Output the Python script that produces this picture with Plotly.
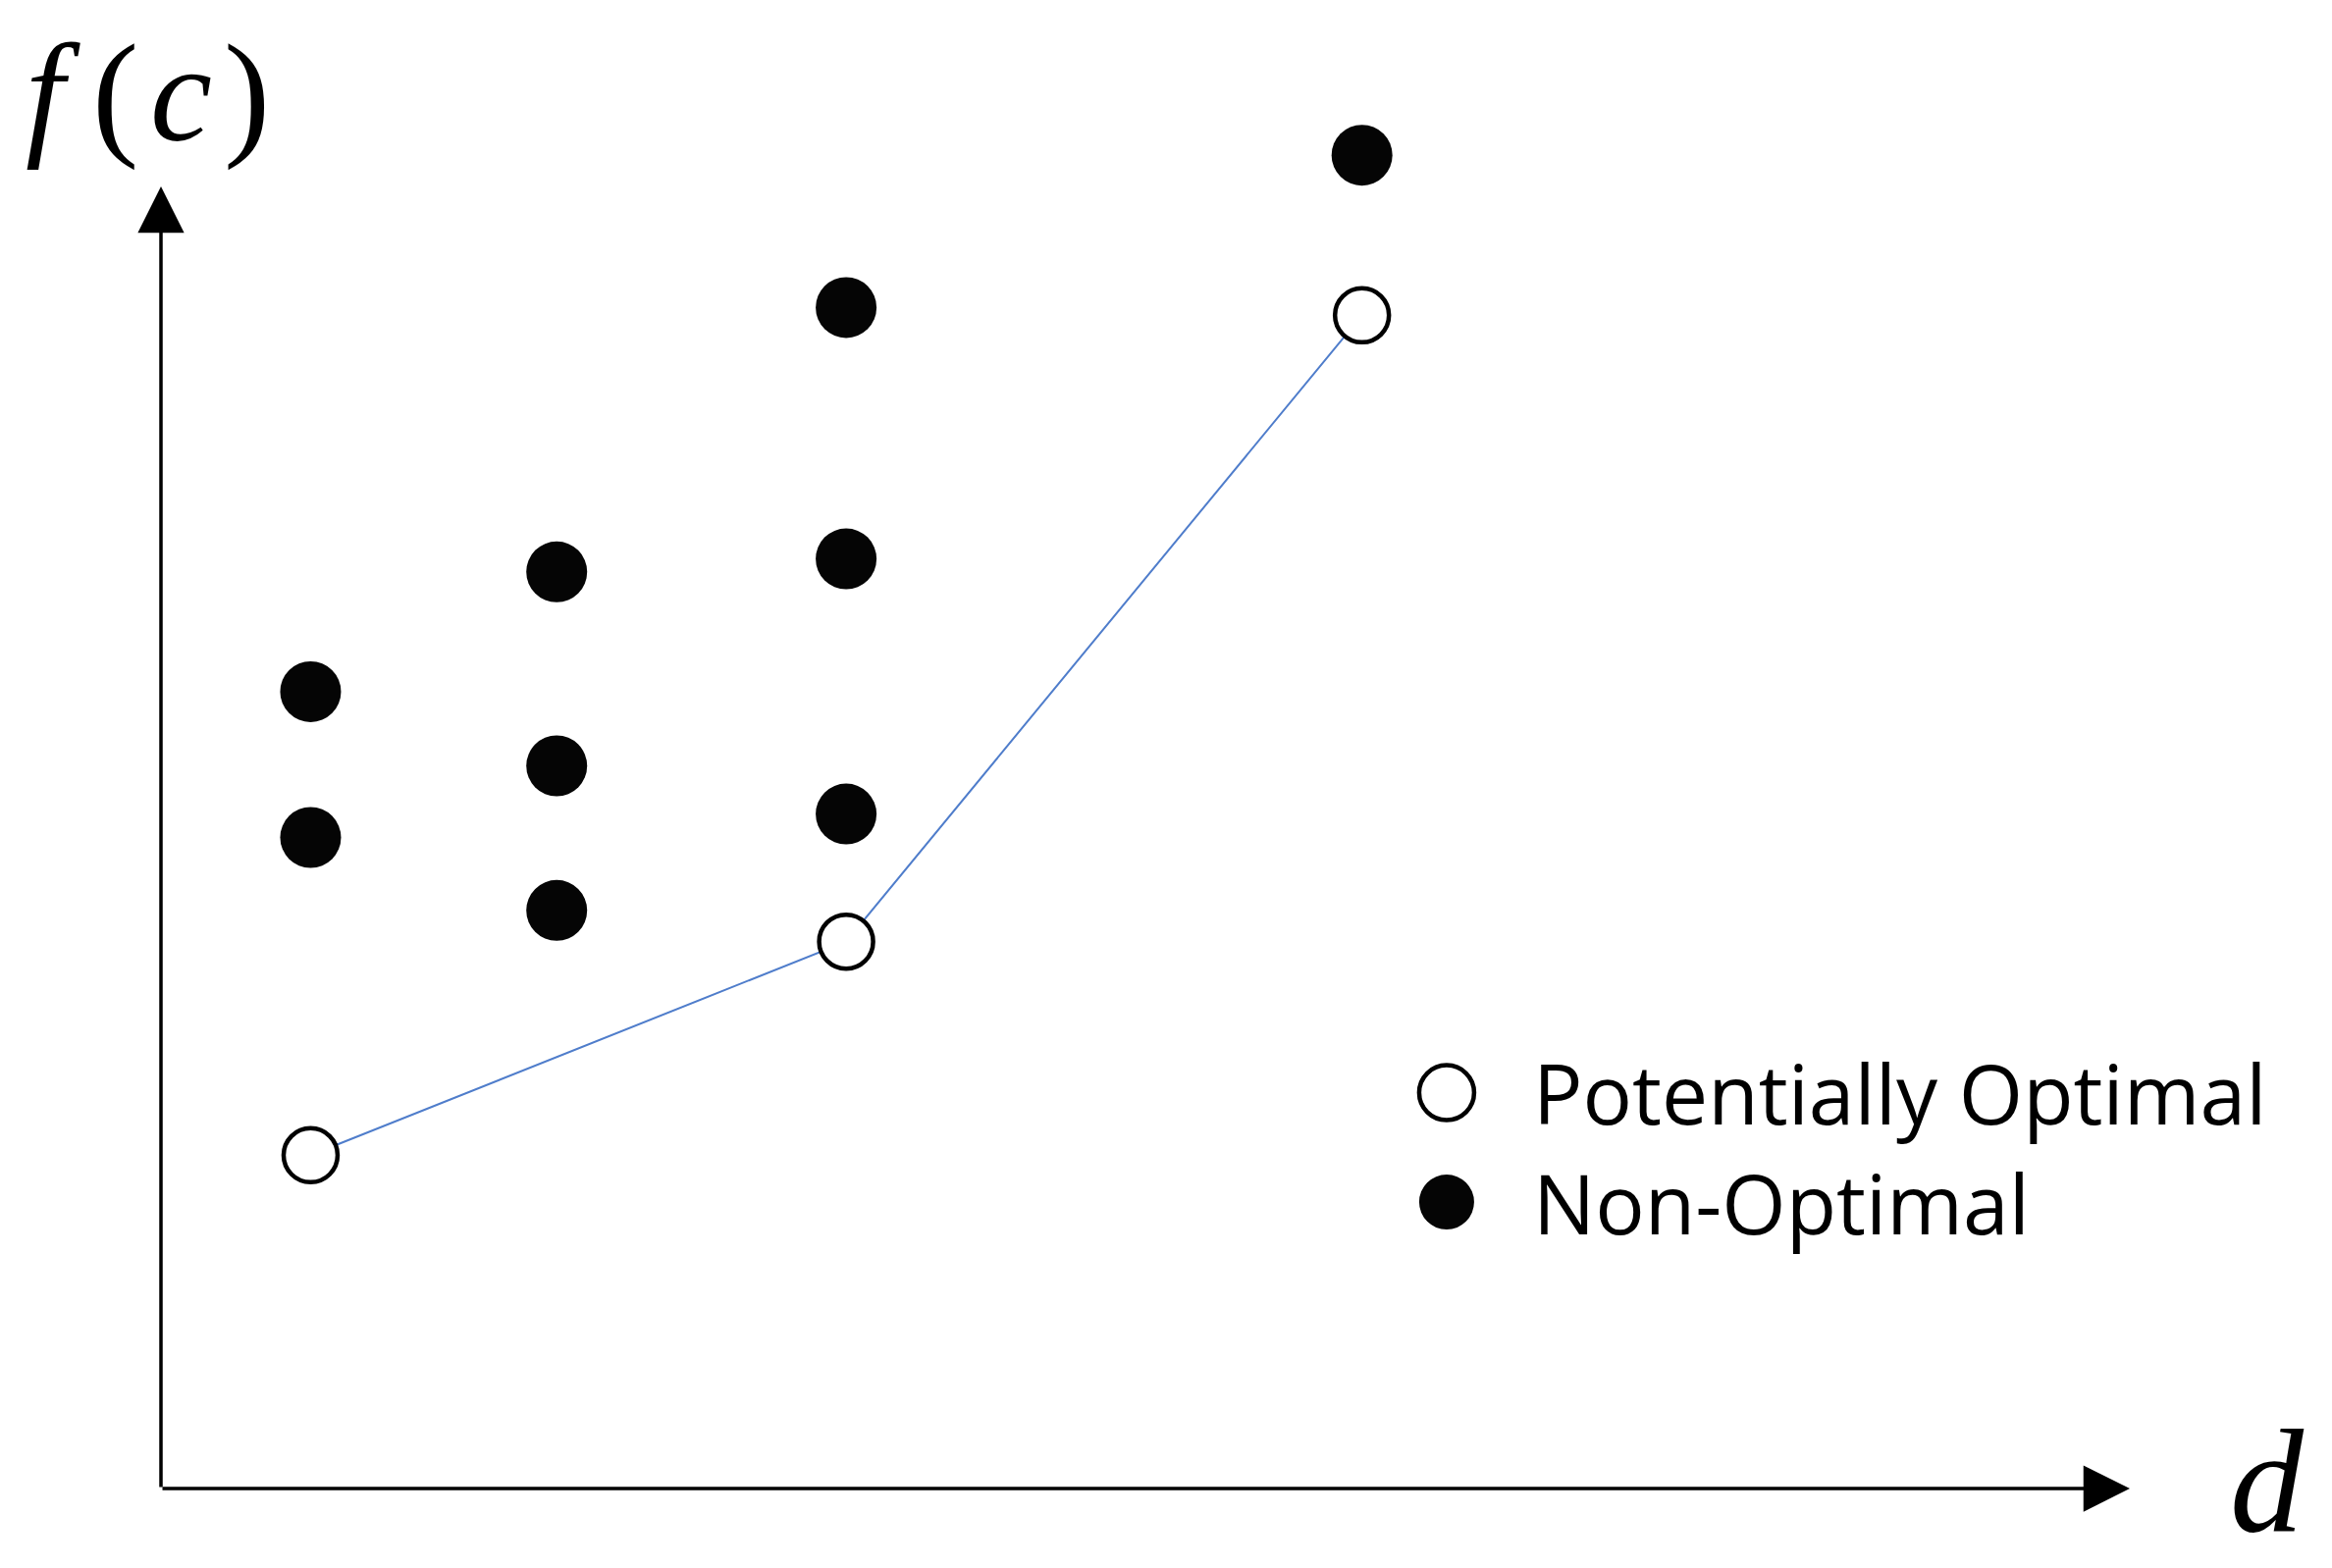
import plotly.graph_objects as go

# ---- data (abstract units: origin of the drawn axes at (0, 0)) ----
opt_d = [7.6, 34.8, 61.0]
opt_f = [25.6, 42.0, 90.1]

non_d = [7.6, 7.6, 20.1, 20.1, 20.1, 34.8, 34.8, 34.8, 61.0]
non_f = [61.2, 50.0, 70.4, 55.5, 44.4, 90.7, 71.4, 51.8, 102.4]

legend_labels = ["Potentially Optimal", "Non-Optimal"]
x_label = "<i>d</i>"
y_label = "<i>f</i>\u2009(\u200a<i>c</i>\u200a)"

# page body has an 8px margin, so the figure is 16px smaller than the window
W, H = 2360, 1582
X_RANGE = [-7.777, 109.870]
Y_RANGE = [-5.501, 113.715]
AXIS_END = 100

fig = go.Figure()

fig.add_trace(go.Scatter(
    x=opt_d, y=opt_f, mode="lines+markers",
    line=dict(color="#4F7DCB", width=2),
    marker=dict(size=55, color="white", line=dict(color="black", width=4.5)),
    name=legend_labels[0], showlegend=False, hoverinfo="skip",
))
fig.add_trace(go.Scatter(
    x=non_d, y=non_f, mode="markers",
    marker=dict(size=62, color="#050505", line=dict(width=0)),
    name=legend_labels[1], showlegend=False, hoverinfo="skip",
))

annotations = [
    # y axis arrow
    dict(x=0, y=AXIS_END, ax=0, ay=0, xref="x", yref="y", axref="x", ayref="y",
         text="", showarrow=True, arrowhead=2, arrowsize=2.7, arrowwidth=3.5,
         arrowcolor="black"),
    # x axis arrow
    dict(x=AXIS_END, y=0, ax=0, ay=0, xref="x", yref="y", axref="x", ayref="y",
         text="", showarrow=True, arrowhead=2, arrowsize=2.7, arrowwidth=3.5,
         arrowcolor="black"),
    # axis labels
    dict(x=X_RANGE[0], y=Y_RANGE[1], xref="x", yref="y", xanchor="left", yanchor="top",
         xshift=16, yshift=-6, text=y_label, showarrow=False,
         font=dict(family="Liberation Serif", size=142, color="black")),
    dict(x=105.0, y=0, xref="x", yref="y", xanchor="left", yanchor="middle",
         yshift=8, text=x_label, showarrow=False,
         font=dict(family="Liberation Serif", size=150, color="black")),
]

# legend (drawn manually so the keys keep the marker size)
leg_x = 65.3
leg_y = [30.4, 22.0]
shapes = []
for i, lab in enumerate(legend_labels):
    fill = "white" if i == 0 else "#050505"
    lw = 4.5 if i == 0 else 0
    shapes.append(dict(type="circle", xref="x", yref="y", xsizemode="pixel",
                       ysizemode="pixel", xanchor=leg_x, yanchor=leg_y[i],
                       x0=-28, x1=28, y0=-28, y1=28, fillcolor=fill,
                       line=dict(color="black", width=lw)))
    annotations.append(dict(x=leg_x, y=leg_y[i], xref="x", yref="y",
                            xanchor="left", yanchor="middle", xshift=86,
                            text=lab, showarrow=False,
                            font=dict(family="Open Sans", size=84, color="black")))

fig.update_layout(
    width=W, height=H,
    margin=dict(l=0, r=0, t=0, b=0),
    paper_bgcolor="white", plot_bgcolor="white",
    xaxis=dict(range=X_RANGE, visible=False, fixedrange=True),
    yaxis=dict(range=Y_RANGE, visible=False, fixedrange=True),
    annotations=annotations, shapes=shapes,
    showlegend=False,
)

fig.write_html("out.html")
